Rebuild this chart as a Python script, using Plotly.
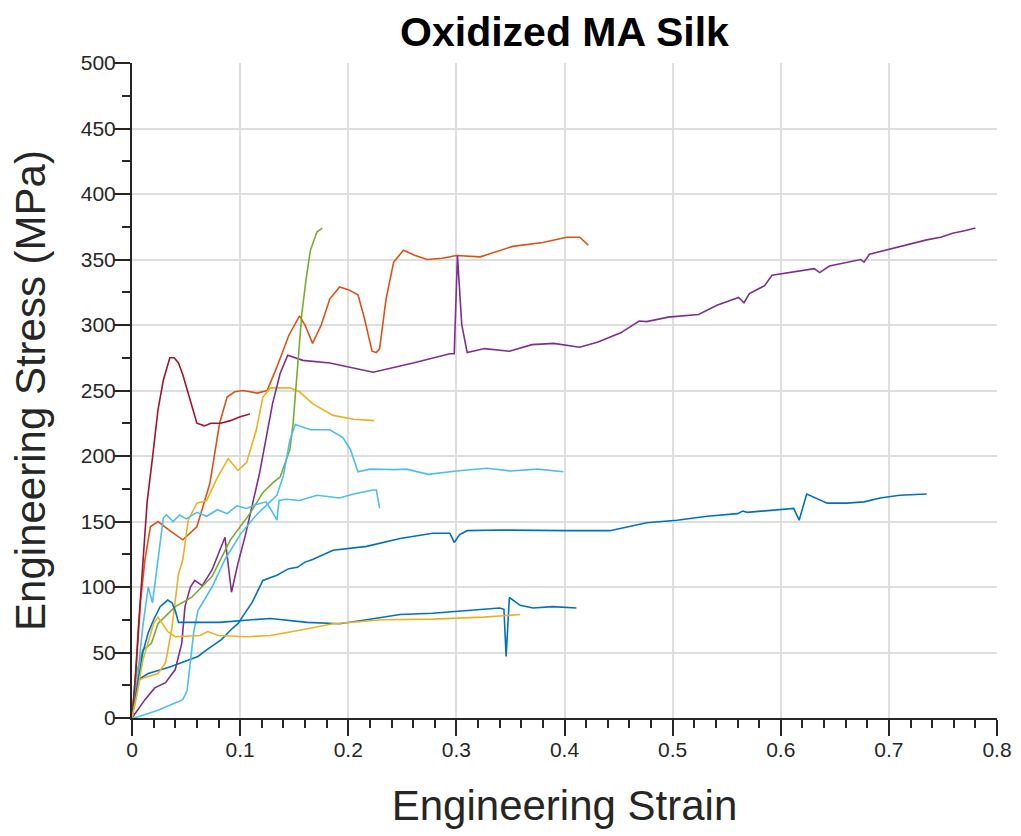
import plotly.graph_objects as go

# ---- data ----
s1_x = [0, 0.003, 0.007, 0.015, 0.035, 0.051, 0.061, 0.069, 0.083, 0.091, 0.098, 0.106, 0.111, 0.121, 0.134, 0.145, 0.153, 0.160, 0.167, 0.186, 0.217, 0.248, 0.278, 0.294, 0.298, 0.303, 0.31, 0.34, 0.37, 0.402, 0.414, 0.442, 0.476, 0.504, 0.532, 0.560, 0.565, 0.569, 0.612, 0.617, 0.624, 0.643, 0.661, 0.677, 0.692, 0.710, 0.735]
s1_y = [0, 20, 30, 34, 39, 44, 47, 52, 60, 67, 72, 82, 88, 105, 109, 114, 115, 119, 121, 128, 131, 137, 141, 141, 134, 140, 143, 143.5, 143, 143, 143, 143, 149, 151, 154, 156, 158, 157, 160, 151, 171, 164, 164, 165, 168, 170, 171]

s2_x = [0, 0.004, 0.008, 0.012, 0.017, 0.024, 0.035, 0.047, 0.060, 0.072, 0.081, 0.088, 0.095, 0.103, 0.116, 0.125, 0.134, 0.145, 0.155, 0.160, 0.167, 0.175, 0.183, 0.192, 0.200, 0.209, 0.215, 0.222, 0.226, 0.229, 0.235, 0.242, 0.251, 0.262, 0.273, 0.287, 0.300, 0.322, 0.352, 0.380, 0.402, 0.414, 0.422]
s2_y = [0, 40, 90, 121, 146, 150, 143, 136, 146, 179, 225, 245, 249, 250, 248, 250, 268, 292, 307, 300, 286, 300, 320, 329, 327, 323, 305, 280, 279, 282, 320, 348, 357, 353, 350, 351, 353, 352, 360, 363, 367, 367, 361]

s3_x = [0, 0.007, 0.012, 0.024, 0.031, 0.037, 0.043, 0.047, 0.052, 0.060, 0.069, 0.078, 0.089, 0.098, 0.106, 0.115, 0.121, 0.128, 0.146, 0.155, 0.167, 0.186, 0.205, 0.224]
s3_y = [0, 29, 31, 34, 42, 69, 110, 121, 151, 164, 166, 182, 198, 189, 195, 220, 245, 252, 252, 249, 240, 231, 228, 227]

s4_x = [0, 0.007, 0.012, 0.021, 0.031, 0.040, 0.046, 0.049, 0.054, 0.058, 0.065, 0.074, 0.080, 0.086, 0.092, 0.098, 0.105, 0.118, 0.130, 0.137, 0.144, 0.158, 0.183, 0.223, 0.260, 0.294, 0.298, 0.301, 0.305, 0.310, 0.326, 0.349, 0.370, 0.390, 0.414, 0.431, 0.452, 0.469, 0.476, 0.496, 0.524, 0.541, 0.561, 0.566, 0.571, 0.585, 0.592, 0.616, 0.631, 0.636, 0.645, 0.674, 0.677, 0.682, 0.701, 0.718, 0.735, 0.748, 0.759, 0.770, 0.780]
s4_y = [0, 8, 14, 23, 27, 37, 57, 85, 100, 105, 101, 113, 125, 138, 96, 118, 140, 187, 240, 263, 277, 273, 271, 264, 271, 278, 278, 353, 300, 279, 282, 280, 285, 286, 283, 287, 294, 303, 302.6, 306, 308, 315, 321, 317, 324, 330, 338, 341, 343, 340, 345, 350, 348, 354, 358, 361, 365, 367, 370, 372, 374]

s5_x = [0, 0.004, 0.010, 0.018, 0.024, 0.040, 0.055, 0.074, 0.091, 0.109, 0.121, 0.131, 0.137, 0.143, 0.146, 0.149, 0.151, 0.153, 0.155, 0.157, 0.161, 0.165, 0.171, 0.176]
s5_y = [0, 34, 52, 57, 72, 85, 92, 108, 136, 156, 172, 180, 184, 197, 205, 225, 245, 263, 289, 308, 335, 357, 371, 374]

s6_x = [0, 0.005, 0.010, 0.015, 0.019, 0.024, 0.029, 0.032, 0.038, 0.044, 0.050, 0.060, 0.069, 0.079, 0.088, 0.097, 0.106, 0.115, 0.124, 0.130, 0.134, 0.136, 0.143, 0.155, 0.171, 0.192, 0.205, 0.223, 0.226, 0.229]
s6_y = [0, 30, 70, 100, 88, 121, 153, 155, 150, 155, 152, 157, 154, 159, 156, 162, 160, 163, 165, 157, 151, 166, 167, 166, 170, 168, 171, 174, 174, 160]

s7_x = [0, 0.006, 0.024, 0.047, 0.051, 0.054, 0.057, 0.061, 0.074, 0.086, 0.100, 0.115, 0.128, 0.134, 0.140, 0.146, 0.151, 0.158, 0.165, 0.183, 0.195, 0.202, 0.209, 0.220, 0.243, 0.254, 0.274, 0.300, 0.328, 0.350, 0.375, 0.399]
s7_y = [0, 1, 6, 14, 21, 44, 65, 82, 100, 121, 140, 155, 165, 170, 185, 212, 224, 222, 220, 220, 214, 205, 188, 190, 189.6, 190, 186, 188.6, 190.6, 188.6, 190, 188]

s8_x = [0, 0.003, 0.006, 0.010, 0.014, 0.019, 0.024, 0.029, 0.035, 0.039, 0.043, 0.047, 0.051, 0.056, 0.060, 0.067, 0.073, 0.082, 0.091, 0.100, 0.109]
s8_y = [0, 30, 70, 121, 165, 199, 235, 258, 275, 275, 271, 262, 250, 235, 225, 223, 225, 225, 227, 230, 232]

s9_x = [0, 0.005, 0.010, 0.015, 0.020, 0.026, 0.033, 0.037, 0.040, 0.043, 0.050, 0.081, 0.111, 0.128, 0.162, 0.192, 0.217, 0.248, 0.278, 0.31, 0.34, 0.344, 0.346, 0.349, 0.359, 0.371, 0.389, 0.411]
s9_y = [0, 25, 50, 65, 75, 85, 90, 88, 82, 73, 73, 73, 75, 76, 73, 72, 75, 79, 80, 82, 84, 83, 47, 92, 86, 84, 85, 84]

s10_x = [0, 0.005, 0.010, 0.015, 0.020, 0.024, 0.028, 0.033, 0.040, 0.063, 0.070, 0.080, 0.106, 0.128, 0.155, 0.186, 0.232, 0.278, 0.325, 0.359]
s10_y = [0, 20, 44, 58, 72, 77, 72, 66, 62, 63, 66, 63, 62, 63, 67, 72, 75, 75.5, 77, 79]

series = [
    (s1_x, s1_y, "#0072BD"),
    (s2_x, s2_y, "#D95319"),
    (s3_x, s3_y, "#EDB120"),
    (s4_x, s4_y, "#7E2F8E"),
    (s5_x, s5_y, "#77AC30"),
    (s6_x, s6_y, "#4DBEEE"),
    (s7_x, s7_y, "#4DBEEE"),
    (s8_x, s8_y, "#A2142F"),
    (s9_x, s9_y, "#0072BD"),
    (s10_x, s10_y, "#EDB120"),
]

x_ticks = [0, 0.1, 0.2, 0.3, 0.4, 0.5, 0.6, 0.7, 0.8]
x_ticklabels = ["0", "0.1", "0.2", "0.3", "0.4", "0.5", "0.6", "0.7", "0.8"]
y_ticks = [0, 50, 100, 150, 200, 250, 300, 350, 400, 450, 500]
y_ticklabels = [str(v) for v in y_ticks]

fig = go.Figure()
for i, (xs, ys, col) in enumerate(series):
    fig.add_trace(go.Scatter(x=xs, y=ys, mode="lines", name=f"Sample {i+1}",
                             line=dict(color=col, width=1.6), showlegend=False))

axis_col = "#262626"
tick_font = dict(family="Liberation Sans Narrow, Arial Narrow, Liberation Sans, Arial, sans-serif", size=21, color=axis_col)
title_font = dict(family="Liberation Sans, Arial, Helvetica, sans-serif", size=42, color=axis_col)

fig.update_layout(
    width=1021, height=836,
    margin=dict(l=132, r=24, t=63, b=118, autoexpand=False),
    paper_bgcolor="white", plot_bgcolor="white",
    title=dict(text="<b>Oxidized MA Silk</b>", x=(132 + 997) / 2 / 1021, xanchor="center",
               y=1 - 32 / 836, yanchor="middle", yref="container",
               font=dict(family="Liberation Sans, Arial, Helvetica, sans-serif", size=41, color="#000000")),
    xaxis=dict(range=[0, 0.8], tickvals=x_ticks, ticktext=x_ticklabels,
               showgrid=True, gridcolor="#dedede", gridwidth=1.5, zeroline=False,
               showline=True, linecolor=axis_col, linewidth=2,
               ticks="outside", ticklen=16, tickwidth=2, tickcolor=axis_col,
               ticklabelstandoff=-4,
               minor=dict(dtick=0.02, tick0=0, ticks="outside", ticklen=8, tickwidth=2,
                          tickcolor=axis_col, showgrid=False),
               tickfont=tick_font,
               title=dict(text="Engineering Strain", font=title_font, standoff=30)),
    yaxis=dict(range=[0, 500], tickvals=y_ticks, ticktext=y_ticklabels,
               showgrid=True, gridcolor="#dedede", gridwidth=1.5, zeroline=False,
               showline=True, linecolor=axis_col, linewidth=2,
               ticks="outside", ticklen=16, tickwidth=2, tickcolor=axis_col,
               ticklabelstandoff=-6,
               minor=dict(dtick=25, tick0=0, ticks="outside", ticklen=8, tickwidth=2,
                          tickcolor=axis_col, showgrid=False),
               tickfont=tick_font,
               title=dict(text="Engineering Stress (MPa)", font=title_font, standoff=22)),
)

fig.write_html("out.html")
